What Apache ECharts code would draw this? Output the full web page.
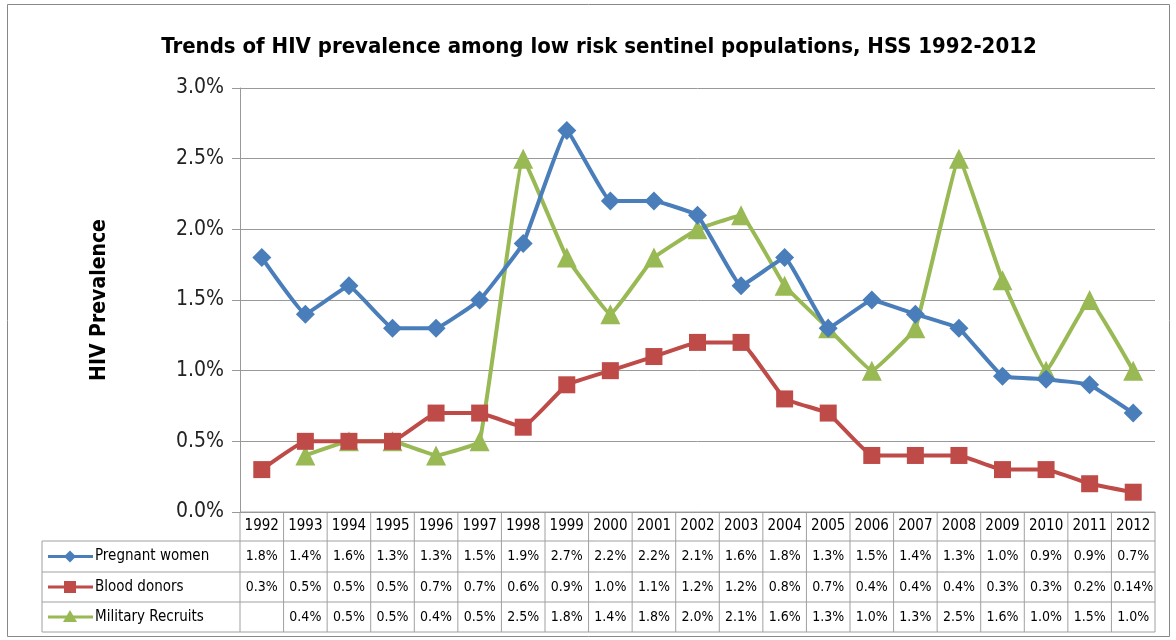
<!DOCTYPE html>
<html>
<head>
<meta charset="utf-8">
<script src="https://cdn.jsdelivr.net/npm/echarts@6/dist/echarts.min.js"></script>
<style>
  html, body { margin: 0; padding: 0; background: #fff; }
  #chart { width: 1176px; height: 640px; }
</style>
</head>
<body>
<div id="chart"></div>
<script>
// Survey years
const years = ['1992','1993','1994','1995','1996','1997','1998','1999','2000','2001','2002',
  '2003','2004','2005','2006','2007','2008','2009','2010','2011','2012'];

// HIV prevalence (%) by sentinel group
const pregnantWomen = [1.8,1.4,1.6,1.3,1.3,1.5,1.9,2.7,2.2,2.2,2.1,1.6,1.8,1.3,1.5,1.4,1.3,0.96,0.94,0.9,0.7];
const bloodDonors   = [0.3,0.5,0.5,0.5,0.7,0.7,0.6,0.9,1.0,1.1,1.2,1.2,0.8,0.7,0.4,0.4,0.4,0.3,0.3,0.2,0.14];
const militaryRecruits = [null,0.4,0.5,0.5,0.4,0.5,2.5,1.8,1.4,1.8,2.0,2.1,1.6,1.3,1.0,1.3,2.5,1.64,1.0,1.5,1.0];

const seriesNames = ['Pregnant women', 'Blood donors', 'Military Recruits'];
const yTicks = [0, 0.5, 1.0, 1.5, 2.0, 2.5, 3.0];

const COLORS = ['#4A7EBB', '#BE4B48', '#98B954'];
const SYMBOLS = ['diamond', 'rect', 'triangle'];
const SYMBOL_SIZES = [19, 17, 20];
const FONT = '"Liberation Sans Narrow", "DejaVu Sans Condensed", "Open Sans", sans-serif';

const chart = echarts.init(document.getElementById('chart'), null, { renderer: 'canvas' });

function fmt(v) {
  if (v === null || v === undefined) return '';
  return (Math.round(v * 100) % 10 !== 0 && v < 0.2) ? v.toFixed(2) + '%' : v.toFixed(1) + '%';
}

const data = [pregnantWomen, bloodDonors, militaryRecruits];

chart.setOption({
  animation: false,
  backgroundColor: '#fff',
  title: {
    text: 'Trends of HIV prevalence among low risk sentinel populations, HSS 1992-2012',
    left: 594, top: 31, textAlign: 'center',
    textStyle: { fontFamily: FONT, fontWeight: 'bold', fontSize: 22, color: '#000' }
  },
  grid: { left: 240, right: 21, top: 88, bottom: 128, containLabel: false },
  xAxis: {
    type: 'category', data: years, boundaryGap: true,
    axisLine: { show: true, lineStyle: { color: '#999' } },
    axisTick: { show: false },
    axisLabel: { show: false }
  },
  yAxis: {
    type: 'value', min: 0, max: 3, interval: 0.5,
    name: 'HIV Prevalence', nameLocation: 'middle', nameRotate: 90, nameGap: 130,
    nameTextStyle: { fontFamily: FONT, fontWeight: 'bold', fontSize: 21, color: '#000' },
    axisLine: { show: true, lineStyle: { color: '#999' } },
    axisTick: { show: true, length: 8, lineStyle: { color: '#999' } },
    axisLabel: {
      margin: 16, fontFamily: FONT, fontSize: 21, color: '#222',
      formatter: v => (yTicks.includes(v) ? v.toFixed(1) + '%' : '')
    },
    splitLine: { lineStyle: { color: '#999', width: 1 } }
  },
  series: data.map((d, i) => ({
    name: seriesNames[i], type: 'line', data: d,
    smooth: 0.08, connectNulls: false,
    symbol: SYMBOLS[i], symbolSize: SYMBOL_SIZES[i],
    lineStyle: { color: COLORS[i], width: 4 },
    itemStyle: { color: COLORS[i] },
    z: 3 - i
  }))
});

// Data table under the plot, aligned to the category axis
function buildTable() {
  const gridRect = chart.getModel().getComponent('grid').coordinateSystem.getRect();
  const x0 = gridRect.x, x1 = gridRect.x + gridRect.width;
  const colW = gridRect.width / years.length;
  const rows = [gridRect.y + gridRect.height, 541, 572, 602, 632];
  const legendLeft = 42;
  const lineColor = '#A0A0A0';
  const els = [];

  // horizontal rules
  els.push({ type: 'line', shape: { x1: x0, y1: rows[0], x2: x1, y2: rows[0] }, style: { stroke: lineColor, lineWidth: 1 } });
  for (let r = 1; r < rows.length; r++) {
    els.push({ type: 'line', shape: { x1: legendLeft, y1: rows[r], x2: x1, y2: rows[r] }, style: { stroke: lineColor, lineWidth: 1 } });
  }
  // vertical rules
  els.push({ type: 'line', shape: { x1: legendLeft, y1: rows[1], x2: legendLeft, y2: rows[4] }, style: { stroke: lineColor, lineWidth: 1 } });
  for (let c = 0; c <= years.length; c++) {
    const x = x0 + c * colW;
    els.push({ type: 'line', shape: { x1: x, y1: rows[0], x2: x, y2: rows[4] }, style: { stroke: lineColor, lineWidth: 1 } });
  }
  // year header
  years.forEach((y, c) => {
    const cx = chart.convertToPixel({ xAxisIndex: 0 }, y);
    els.push({ type: 'text', x: cx, y: (rows[0] + rows[1]) / 2,
      style: { text: y, fontFamily: FONT, fontSize: 15, fill: '#000', align: 'center', verticalAlign: 'middle' } });
  });
  // series rows
  data.forEach((d, i) => {
    const cy = (rows[i + 1] + rows[i + 2]) / 2;
    // legend key
    els.push({ type: 'line', shape: { x1: 48, y1: cy, x2: 93, y2: cy }, style: { stroke: COLORS[i], lineWidth: 3 } });
    const key = { diamond: { type: 'polygon', shape: { points: [[70, cy - 6], [76, cy], [70, cy + 6], [64, cy]] } },
                  rect: { type: 'rect', shape: { x: 64, y: cy - 6, width: 12, height: 12 } },
                  triangle: { type: 'polygon', shape: { points: [[70, cy - 7], [77, cy + 5], [63, cy + 5]] } } }[SYMBOLS[i]];
    key.style = { fill: COLORS[i] };
    els.push(key);
    els.push({ type: 'text', x: 95, y: cy,
      style: { text: seriesNames[i], fontFamily: FONT, fontSize: 15, fill: '#000', align: 'left', verticalAlign: 'middle' } });
    d.forEach((v, c) => {
      const cx = chart.convertToPixel({ xAxisIndex: 0 }, years[c]);
      els.push({ type: 'text', x: cx, y: cy,
        style: { text: fmt(v), fontFamily: FONT, fontSize: 14, fill: '#000', align: 'center', verticalAlign: 'middle' } });
    });
  });
  // outer chart frame
  els.push({ type: 'rect', shape: { x: 7.5, y: 4.5, width: 1162, height: 632 }, style: { fill: 'none', stroke: '#888', lineWidth: 1 }, z: -1 });

  chart.setOption({ graphic: { elements: els } });
}
buildTable();
</script>
</body>
</html>
